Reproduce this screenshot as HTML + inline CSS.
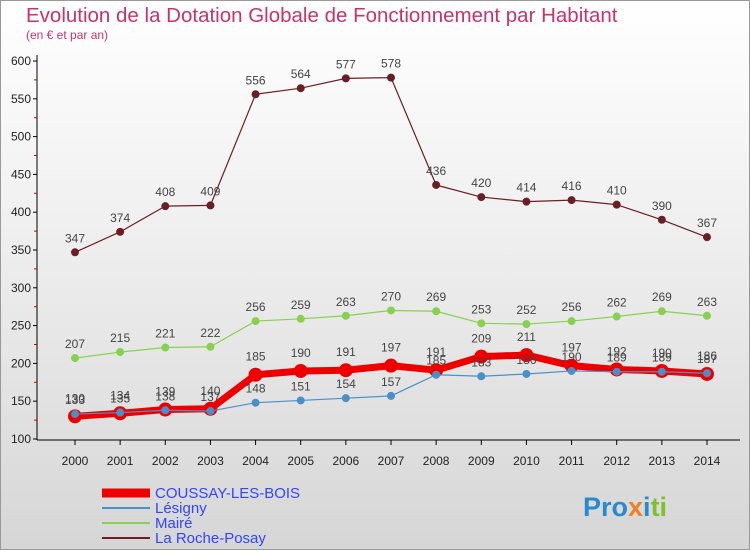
<!DOCTYPE html>
<html><head><meta charset="utf-8"><style>
body{margin:0;width:750px;height:550px;overflow:hidden;font-family:"Liberation Sans","DejaVu Sans",sans-serif}
#bg{position:absolute;left:0;top:0;width:748px;height:548px;border:1px solid #999;background:linear-gradient(#fff 0%,#f0f0f0 40%,#d6d6d6 100%)}
</style></head><body>
<div id="bg"></div>
<svg id="c" width="750" height="550" style="position:absolute;left:0;top:0"></svg>
<script>
const years=["2000","2001","2002","2003","2004","2005","2006","2007","2008","2009","2010","2011","2012","2013","2014"];
const coussay=[130,134,139,140,185,190,191,197,191,209,211,197,192,190,186];
const lesigny=[133,135,138,137,148,151,154,157,185,183,186,190,189,189,187];
const maire=[207,215,221,222,256,259,263,270,269,253,252,256,262,269,263];
const roche=[347,374,408,409,556,564,577,578,436,420,414,416,410,390,367];
const yTicks=[100,150,200,250,300,350,400,450,500,550,600];
const NS="http://www.w3.org/2000/svg";
const svg=document.getElementById('c');
const X=i=>75+i*(707-75)/14;
const Y=v=>439-(v-100)*(439-61)/500;
function mk(t,a,p){const e=document.createElementNS(NS,t);for(const k in a)e.setAttribute(k,a[k]);(p||svg).appendChild(e);return e;}
let t=mk('text',{x:26,y:22,'font-size':20.5,fill:'#c8326e'});t.textContent="Evolution de la Dotation Globale de Fonctionnement par Habitant";

t=mk('text',{x:26,y:39,'font-size':12,fill:'#c8326e'});t.textContent="(en € et par an)";

let ax=mk('line',{x1:37,y1:55,x2:37,y2:440,stroke:'#000'});

ax=mk('line',{x1:37,y1:440,x2:740,y2:440,stroke:'#000'});

yTicks.forEach(v=>{
 const l=mk('line',{x1:33,y1:Y(v),x2:37,y2:Y(v),stroke:'#000'});
 
 if(v<600){mk('line',{x1:34,y1:Y(v+25),x2:37,y2:Y(v+25),stroke:'#c00'});}
 const tx=mk('text',{x:31,y:Y(v)+4,'font-size':12,'text-anchor':'end',fill:'#222'});tx.textContent=v;
 
});
years.forEach((y,i)=>{
 const l=mk('line',{x1:X(i),y1:440,x2:X(i),y2:445,stroke:'#000'});
 
 const tx=mk('text',{x:X(i),y:465,'font-size':12,'text-anchor':'middle',fill:'#222'});tx.textContent=y;
 
});
function series(data,color,w,r,fill,name,dy){
 const g=mk('g',{});
 
 const p=mk('polyline',{points:data.map((v,i)=>X(i)+','+Y(v)).join(' '),fill:'none',stroke:color,'stroke-width':w,'stroke-linejoin':'round'},g);
 
 data.forEach((v,i)=>{
  const c=mk('circle',{cx:X(i),cy:Y(v),r:r,fill:fill,stroke:color,'stroke-width':1},g);
  
  const tx=mk('text',{x:X(i),y:Y(v)-dy,'font-size':12,'text-anchor':'middle',fill:'#444'},g);tx.textContent=v;
  
 });
}
series(roche,'#6b1f25',1.2,3.5,'#6b1f25','la-roche-posay',10);
series(maire,'#88d050',1.2,3.5,'#88d050','maire',10);
series(coussay,'#ee0000',7,6.5,'#ee0000','coussay-les-bois',14);
series(lesigny,'#4a90c8',1.2,3.5,'#4a90c8','lesigny',10);
const leg=[['COUSSAY-LES-BOIS','#ee0000',9],['Lésigny','#4a90c8',2],['Mairé','#88d050',2],['La Roche-Posay','#6b1f25',2]];
leg.forEach((d,i)=>{
 const y=493+i*15;
 const l=mk('line',{x1:102,y1:y,x2:150,y2:y,stroke:d[1],'stroke-width':d[2]});
 
 const tx=mk('text',{x:155,y:y+5,'font-size':15,fill:'#3344ff'});tx.textContent=d[0];
 
});
const lg=mk('text',{x:583,y:516,'font-size':27,'font-weight':'bold',fill:'#f0a020'});
lg.innerHTML='<tspan fill="#2a8ad0">Pro</tspan><tspan fill="#f08020">x</tspan><tspan fill="#2a8ad0">i</tspan><tspan fill="#80c030">ti</tspan>';

</script>
</body></html>
